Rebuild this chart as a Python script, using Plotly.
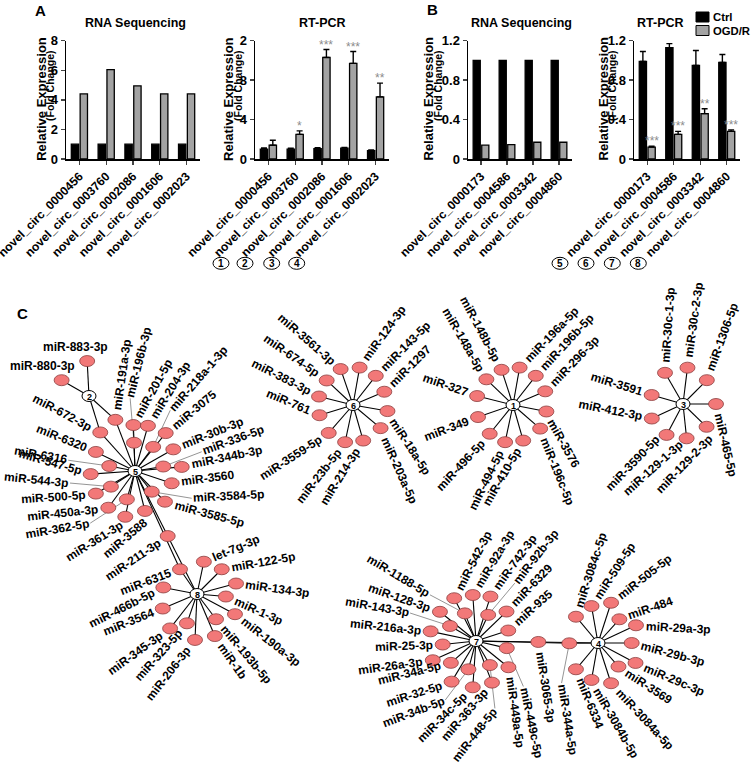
import math
import plotly.graph_objects as go

W, H = 751, 764

# ---------------- Panel A data ----------------
a_circ = ["novel_circ_0000456", "novel_circ_0003760", "novel_circ_0002086",
          "novel_circ_0001606", "novel_circ_0002023"]
a_seq_ctrl = [1.0, 1.0, 1.0, 1.0, 1.0]
a_seq_ogd = [4.4, 6.05, 4.95, 4.4, 4.4]
a_pcr_ctrl = [1.0, 1.0, 1.05, 1.1, 0.85]
a_pcr_ctrl_err = [0.12, 0.1, 0.1, 0.06, 0.08]
a_pcr_ogd = [1.4, 2.5, 10.3, 9.7, 6.3]
a_pcr_ogd_err = [0.5, 0.35, 0.8, 1.2, 1.4]
a_pcr_sig = ["", "*", "***", "***", "**"]
a_seq_ticks = [0, 2, 4, 6, 8]
a_pcr_ticks = [0, 4, 8, 12]
a_pcr_ticktext = ["0", "4", "8", "2"]

# ---------------- Panel B data ----------------
b_circ = ["novel_circ_0000173", "novel_circ_0004586", "novel_circ_0003342",
          "novel_circ_0004860"]
b_seq_ctrl = [1.0, 1.0, 1.0, 1.0]
b_seq_ogd = [0.14, 0.145, 0.17, 0.17]
b_pcr_ctrl = [0.99, 1.13, 0.95, 0.98]
b_pcr_ctrl_err = [0.1, 0.04, 0.15, 0.08]
b_pcr_ogd = [0.12, 0.25, 0.46, 0.28]
b_pcr_ogd_err = [0.01, 0.03, 0.05, 0.015]
b_pcr_sig = ["***", "***", "**", "***"]
b_ticks = [0, 0.4, 0.8, 1.2]
b_ticktext = ["0", "0.4", "0.8", "1.2"]

a_circle_ids = ["1", "2", "3", "4"]
b_circle_ids = ["5", "6", "7", "8"]

# ---------------- Panel C network data ----------------
hub_ids = ["1", "2", "3", "4", "5", "6", "7", "8"]
hub_x = [513, 89, 683, 598, 135, 353, 476, 197]
hub_y = [405, 396, 404, 643, 471, 405, 641, 594]

# (miRNA, direction from hub [deg], distance, label direction [deg])
hub1_mir = [("miR-148a-5p", -136, 37, -120), ("miR-148b-5p", -108, 37, -118),
            ("miR-196a-5p", -80, 38, -46), ("miR-196b-5p", -52, 37, -47),
            ("miR-296-3p", -23, 35, -46), ("miR-3576", 11, 34, 61),
            ("miR-196c-5p", 41, 36, 68), ("miR-410-5p", 74, 37, 120),
            ("miR-494-5p", 102, 38, 116), ("miR-496-5p", 129, 37, 133),
            ("miR-349", 161, 37, 159), ("miR-327", -166, 37, -161)]
hub2_mir = [("miR-883-3p", -93, 35, 180), ("miR-880-3p", -150, 31.6, 180)]
hub3_mir = [("miR-30c-1-3p", -120, 36, -86), ("miR-30c-2-3p", -83, 36.6, -82),
            ("miR-1306-5p", -45, 33.7, -70), ("miR-465-5p", 0, 33, 77),
            ("miR-129-2-3p", 44, 32.8, 134), ("miR-129-1-3p", 84, 34.5, 138),
            ("miR-3590-5p", 118, 35, 134), ("miR-412-3p", 155, 34.4, -169),
            ("miR-3591", -164, 32.6, -163)]
hub4_mir = [("miR-3084c-5p", -130, 34.3, -72), ("miR-509-5p", -100, 37.5, -57),
            ("miR-505-5p", -72, 42.3, -38), ("miR-484", -48, 31.9, -19),
            ("miR-29a-3p", -25, 41.9, 3), ("miR-29b-3p", 0, 33.7, 15),
            ("miR-29c-3p", 28, 42.5, 23), ("miR-3569", 49, 31.2, 33),
            ("miR-3084a-5p", 72, 42.3, 47), ("miR-3084b-5p", 100, 37.5, 60),
            ("miR-6334", 130, 34.3, 68), ("miR-3065-3p", 181, 59.7, 81),
            ("miR-344a-5p", 179.4, 28.7, 81)]
hub5_mir = [("miR-191a-3p", -111, 54.8, -82), ("miR-196b-3p", -92, 28.3, -76),
            ("miR-201-5p", -92, 46, -61), ("miR-204-3p", -74, 47, -58),
            ("miR-218a-1-3p", -53, 30.2, -49), ("miR-3075", -51, 48.8, -40),
            ("miR-30b-3p", -29.5, 44, -22), ("miR-336-5p", -9, 28.6, -20),
            ("miR-344b-3p", -5, 46.9, -12), ("miR-3560", 18.5, 38.7, -7.5),
            ("miR-3584-5p", 51, 26.6, -3), ("miR-3585-5p", 45.7, 42.9, 15),
            ("miR-3588", 76, 41.2, 140), ("miR-361-3p", 102, 46.8, 148),
            ("miR-362-5p", 106, 29.5, 170), ("miR-450a-3p", 126, 45.4, 174),
            ("miR-500-5p", 150, 45.2, 176), ("miR-544-3p", 147, 28.7, 186),
            ("miR-547-5p", 176, 44.4, -164), ("miR-6316", -169, 26.2, -170),
            ("miR-6320", -154, 43.5, -158), ("miR-672-3p", -132, 51.9, -152),
            ("miR-211-3p", 63.3, 72.8, 146)]
hub6_mir = [("miR-3561-3p", -109, 38, -139), ("miR-124-3p", -80, 38, -54),
            ("miR-143-5p", -52, 37, -45), ("miR-1297", -23, 34, -45),
            ("miR-18a-5p", 10, 35, 57), ("miR-203a-5p", 40, 36, 66),
            ("miR-214-3p", 74, 37, 122), ("miR-23b-5p", 102, 38, 128),
            ("miR-3559-5p", 131, 37, 147), ("miR-761", 163, 35, -157),
            ("miR-383-3p", -166, 35, -153), ("miR-674-5p", -137, 36, -145)]
hub7_mir = [("miR-1188-5p", -112, 29.8, -149), ("miR-542-3p", -117, 48, -63),
            ("miR-92a-3p", -94, 46.1, -59), ("miR-742-3p", -72, 46.7, -54),
            ("miR-92b-3p", -65, 28.8, -52), ("miR-6329", -44, 42.4, -46),
            ("miR-935", -18, 33.9, -42), ("miR-449c-5p", 13, 31.6, 78),
            ("miR-449a-5p", 39, 41.7, 82), ("miR-448-5p", 60, 27.8, 128),
            ("miR-363-3p", 69, 44.6, 131), ("miR-34c-5p", 94, 46.4, 135),
            ("miR-34b-5p", 105, 29.3, 159), ("miR-32-5p", 121, 47.4, 162),
            ("miR-34a-5p", 139, 33.3, 166), ("miR-26a-3p", 156, 47.3, 172),
            ("miR-25-3p", 174, 33.5, 178), ("miR-216a-3p", -168, 46.4, -174),
            ("miR-143-3p", -150, 30, -170), ("miR-128-3p", -141, 46.4, -161)]
hub8_mir = [("let-7g-3p", -78, 33, -23), ("miR-122-5p", -45, 35, -10),
            ("miR-134-3p", -15, 40.4, 8), ("miR-1-3p", 5, 29, 24),
            ("miR-190a-3p", 28, 43, 38), ("miR-193b-5p", 53, 31.6, 50),
            ("miR-1b", 67, 45.7, 55), ("miR-206-3p", 92.5, 46, 128),
            ("miR-323-5p", 109, 31, 132), ("miR-345-3p", 128, 43.7, 144),
            ("miR-3564", 157, 37.2, 158), ("miR-466b-5p", -169, 34.3, 153),
            ("miR-6315", -124.5, 30, 159)]

# label offset from node: (direction, distance, draw leader line)
label_leaders = {
    "miR-196b-3p": (-95, 44.6, True), "miR-218a-1-3p": (-65, 40.4, True),
    "miR-336-5p": (-21, 41.2, True), "miR-3584-5p": (9.4, 40.5, True),
    "miR-362-5p": (147, 43.7, True), "miR-544-3p": (185, 41.1, True),
    "miR-6316": (-172, 41.4, True), "miR-1188-5p": (-152, 39.5, True),
    "miR-92b-3p": (-50, 41.4, True), "miR-449c-5p": (66.6, 41.8, True),
    "miR-448-5p": (83.4, 43.6, True), "miR-34b-5p": (127, 38.5, True),
    "miR-143-3p": (-162, 42, True), "miR-344a-5p": (101, 40.5, True),
    "miR-883-3p": (-33, 26, False), "miR-880-3p": (-45, 19.8, False),
    "miR-3590-5p": (168, 8.5, False), "miR-129-1-3p": (146, 6, False),
    "miR-129-2-3p": (63, 11, False), "miR-3588": (80, 9, False),
    "miR-361-3p": (110, 7, False),
}
# miRNAs shared between two circRNAs: (miRNA, second hub)
shared_links = [("miR-672-3p", "2"), ("miR-191a-3p", "2"), ("miR-211-3p", "8"),
                ("miR-6315", "5"), ("miR-3065-3p", "7"), ("miR-344a-5p", "7")]

hub_mirs = {"1": hub1_mir, "2": hub2_mir, "3": hub3_mir, "4": hub4_mir,
            "5": hub5_mir, "6": hub6_mir, "7": hub7_mir, "8": hub8_mir}

# ---------------- helpers ----------------
FONT = "Arial, 'Liberation Sans', sans-serif"
CW = {'m': 889, 'i': 278, 'R': 722, '-': 333, 'a': 556, 'b': 611, 'c': 556,
      'p': 611, 'l': 278, 'e': 556, 't': 333, 'g': 611, '_': 556}
LAB_SIZE = 12


def text_w(s, size=LAB_SIZE):
    return sum(CW.get(ch, 556) for ch in s) * size / 1000.0


def unit(a):
    r = math.radians(a)
    return math.cos(r), math.sin(r)


fig = go.Figure()
shapes = []
annots = []

# ---------------- bar panels ----------------
GRAY = "#A3A3A3"
bar_y0, bar_y1 = 159, 40.7
panels = [
    dict(ax="", px0=66, px1=200, cats=a_circ, ctrl=a_seq_ctrl, ce=None,
         ogd=a_seq_ogd, oe=None, rng=[0, 8], tv=a_seq_ticks,
         tt=[str(v) for v in a_seq_ticks], sig=None),
    dict(ax="2", px0=255, px1=389, cats=a_circ, ctrl=a_pcr_ctrl, ce=a_pcr_ctrl_err,
         ogd=a_pcr_ogd, oe=a_pcr_ogd_err, rng=[0, 12], tv=a_pcr_ticks,
         tt=a_pcr_ticktext, sig=a_pcr_sig),
    dict(ax="3", px0=468, px1=572, cats=b_circ, ctrl=b_seq_ctrl, ce=None,
         ogd=b_seq_ogd, oe=None, rng=[0, 1.2], tv=b_ticks, tt=b_ticktext, sig=None),
    dict(ax="4", px0=634, px1=740, cats=b_circ, ctrl=b_pcr_ctrl, ce=b_pcr_ctrl_err,
         ogd=b_pcr_ogd, oe=b_pcr_ogd_err, rng=[0, 1.2], tv=b_ticks, tt=b_ticktext,
         sig=b_pcr_sig),
]
layout_axes = {}
for p in panels:
    xa = "x" + p["ax"]
    ya = "y" + p["ax"]
    n = len(p["cats"])
    for vals, errs, col, name in [(p["ctrl"], p["ce"], "black", "Ctrl"),
                                  (p["ogd"], p["oe"], GRAY, "OGD/R")]:
        ey = None
        if errs is not None:
            ey = dict(type="data", symmetric=False, array=errs, arrayminus=[0] * n,
                      color="black", thickness=1.4, width=3)
        fig.add_trace(go.Bar(x=p["cats"], y=vals, name=name, marker=dict(
            color=col, line=dict(color="black", width=1.3)), error_y=ey,
            xaxis=xa, yaxis=ya, showlegend=False, hoverinfo="skip"))
    key = "xaxis" + p["ax"]
    layout_axes[key] = dict(domain=[p["px0"] / W, p["px1"] / W], anchor=ya,
                            showline=True, linecolor="black", linewidth=1.5,
                            ticks="outside", ticklen=4, tickwidth=1.3, tickangle=-45,
                            tickfont=dict(family=FONT, size=12.1, color="black", weight="bold"),
                            showgrid=False, zeroline=False, range=[-0.5, n - 0.5],
                            fixedrange=True, automargin=False)
    layout_axes["yaxis" + p["ax"]] = dict(domain=[1 - bar_y0 / H, 1 - bar_y1 / H],
                                          anchor=xa, range=p["rng"], tickvals=p["tv"],
                                          ticktext=p["tt"], showline=True,
                                          linecolor="black", linewidth=1.5,
                                          ticks="outside", ticklen=4, tickwidth=1.3,
                                          tickfont=dict(family=FONT, size=13, color="black", weight="bold"),
                                          showgrid=False, zeroline=False, fixedrange=True,
                                          automargin=False)
    if p["sig"]:
        for i, s in enumerate(p["sig"]):
            if s:
                top = p["ogd"][i] + p["oe"][i]
                annots.append(dict(x=i + 0.165, y=top, xref=xa, yref=ya, text=s,
                                   showarrow=False, yanchor="bottom", yshift=-4,
                                   font=dict(family=FONT, size=12, color="#8c8c8c")))

# bar panel titles and axis titles (pixel coordinates on the overlay axis)
titles = [("RNA Sequencing", 135), ("RT-PCR", 322), ("RNA Sequencing", 521), ("RT-PCR", 660)]
for t, x in titles:
    annots.append(dict(x=x, y=23, xref="x5", yref="y5", text=t, showarrow=False,
                       font=dict(family=FONT, size=12.5, color="black", weight="bold")))
rel_x = [40.8, 228, 427.5, 602.5]
fold_x = [50, 238, 438, 612]
for rx, fx in zip(rel_x, fold_x):
    annots.append(dict(x=rx, y=99, xref="x5", yref="y5", text="Relative Expression",
                       textangle=-90, showarrow=False,
                       font=dict(family=FONT, size=13, color="black", weight="bold")))
    annots.append(dict(x=fx, y=86, xref="x5", yref="y5", text="(Fold Change)",
                       textangle=-90, showarrow=False,
                       font=dict(family=FONT, size=10.5, color="black", weight="bold")))
for t, x, y in [("A", 40, 10), ("B", 432, 9), ("C", 22, 313)]:
    annots.append(dict(x=x, y=y, xref="x5", yref="y5", text=t, showarrow=False,
                       font=dict(family=FONT, size=15, color="black", weight="bold")))

# legend
for i, (name, col) in enumerate([("Ctrl", "black"), ("OGD/R", GRAY)]):
    yc = 17 + 13.5 * i
    shapes.append(dict(type="rect", xref="x5", yref="y5", x0=696, x1=709,
                       y0=yc - 5, y1=yc + 5, fillcolor=col,
                       line=dict(color="black", width=1)))
    annots.append(dict(x=711, y=yc, xref="x5", yref="y5", text=name, xanchor="left",
                       showarrow=False,
                       font=dict(family=FONT, size=11.3, color="black", weight="bold")))

# circled circRNA numbers under RT-PCR panels
circ_pos = [(a_circle_ids, [221, 245, 271.7, 296.7]), (b_circle_ids, [560, 586, 612.3, 638.3])]
for ids, xs in circ_pos:
    for cid, cx in zip(ids, xs):
        shapes.append(dict(type="circle", xref="x5", yref="y5", x0=cx - 8, x1=cx + 8,
                           y0=263.3 - 6, y1=263.3 + 6, fillcolor="white",
                           line=dict(color="black", width=1)))
        annots.append(dict(x=cx, y=263.8, xref="x5", yref="y5", text=cid, showarrow=False,
                           font=dict(family=FONT, size=10, color="black", weight="bold")))

# ---------------- network ----------------
hub_pos = {h: (x, y) for h, x, y in zip(hub_ids, hub_x, hub_y)}
node_pos = {}
ex, ey_ = [], []
lx, ly = [], []
label_annots = []
for h in hub_ids:
    hx, hy = hub_pos[h]
    for name, ang, r, lab in hub_mirs[h]:
        ux, uy = unit(ang)
        nx, ny = hx + r * ux, hy + r * uy
        node_pos[name] = (nx, ny)
        ex += [hx, nx, None]
        ey_ += [hy, ny, None]
        la, ld, draw = label_leaders.get(name, (lab, 9, False))
        vx, vy = unit(la)
        nearx, neary = nx + ld * vx, ny + ld * vy
        if draw:
            lx += [nx, nearx, None]
            ly += [ny, neary, None]
        tx, ty = unit(lab)
        w = text_w(name)
        cx, cy = nearx + (w / 2 + 1) * tx, neary + (w / 2 + 1) * ty
        tangle = lab if math.cos(math.radians(lab)) >= -1e-9 else lab - 180
        while tangle > 180:
            tangle -= 360
        while tangle < -180:
            tangle += 360
        label_annots.append(dict(x=cx, y=cy, xref="x5", yref="y5", text=name,
                                 textangle=tangle, showarrow=False,
                                 xanchor="center", yanchor="middle", borderpad=0,
                                 font=dict(family=FONT, size=LAB_SIZE, color="black",
                                           weight="bold")))
for name, h in shared_links:
    hx, hy = hub_pos[h]
    nx, ny = node_pos[name]
    ex += [hx, nx, None]
    ey_ += [hy, ny, None]

fig.add_trace(go.Scatter(x=lx, y=ly, mode="lines", line=dict(color="#7a7a7a", width=0.8),
                         xaxis="x5", yaxis="y5", hoverinfo="skip", showlegend=False))
fig.add_trace(go.Scatter(x=ex, y=ey_, mode="lines", line=dict(color="black", width=1.1),
                         xaxis="x5", yaxis="y5", hoverinfo="skip", showlegend=False))

RX, RY = 7.5, 5.5
for name, (nx, ny) in node_pos.items():
    shapes.append(dict(type="circle", xref="x5", yref="y5", layer="above",
                       x0=nx - RX, x1=nx + RX, y0=ny - RY, y1=ny + RY,
                       fillcolor="#F27878", line=dict(color="#8a3d3d", width=0.8)))
for h in hub_ids:
    hx, hy = hub_pos[h]
    shapes.append(dict(type="circle", xref="x5", yref="y5", layer="above",
                       x0=hx - 7, x1=hx + 7, y0=hy - 5.5, y1=hy + 5.5,
                       fillcolor="white", line=dict(color="black", width=1)))
    annots.append(dict(x=hx, y=hy + 0.5, xref="x5", yref="y5", text=h, showarrow=False,
                       font=dict(family=FONT, size=9, color="black", weight="bold")))

annots = label_annots + annots

fig.update_layout(
    width=W, height=H, margin=dict(l=0, r=0, t=0, b=0, autoexpand=False),
    paper_bgcolor="white", plot_bgcolor="rgba(0,0,0,0)",
    barmode="group", bargap=0.34, bargroupgap=0.17,
    showlegend=False, hovermode=False,
    xaxis5=dict(domain=[0, 1], range=[0, W], anchor="y5", visible=False,
                fixedrange=True, automargin=False),
    yaxis5=dict(domain=[0, 1], range=[H, 0], anchor="x5", visible=False,
                fixedrange=True, automargin=False),
    shapes=shapes, annotations=annots,
    **layout_axes,
)
fig.write_html("out.html", config={"displayModeBar": False, "staticPlot": True},
               post_script="document.body.style.margin='0';document.body.style.padding='0';")
